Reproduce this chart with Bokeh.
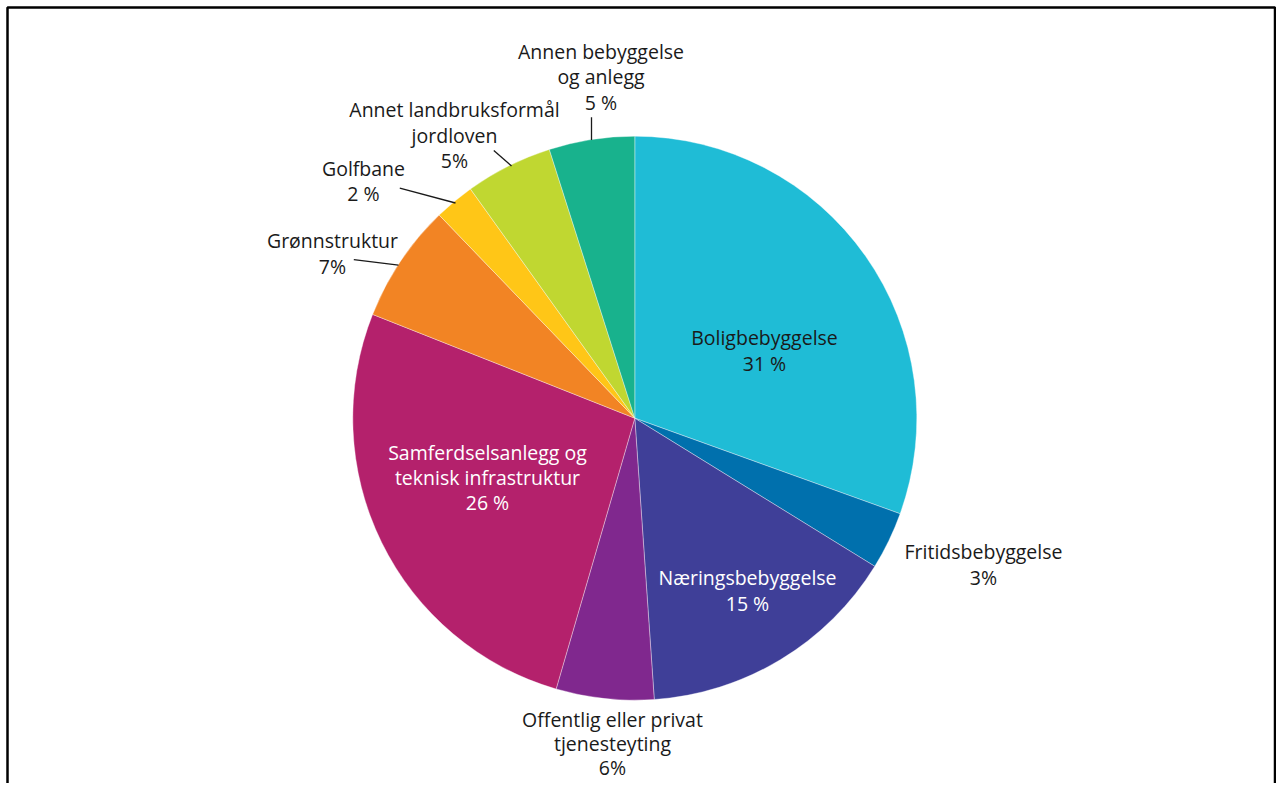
import numpy as np
from bokeh.plotting import figure
from bokeh.models import Range1d, ColumnDataSource
from bokeh.core.properties import value
from bokeh.embed import file_html
from bokeh.resources import INLINE

# ---- data (clockwise from 12 o'clock) ----
categories = ["Boligbebyggelse", "Fritidsbebyggelse", "Næringsbebyggelse",
              "Offentlig eller privat tjenesteyting",
              "Samferdselsanlegg og teknisk infrastruktur", "Grønnstruktur",
              "Golfbane", "Annet landbruksformål jordloven",
              "Annen bebyggelse og anlegg"]
shares = [30.5, 3.3, 15.1, 5.6, 26.5, 6.8, 2.3, 5.0, 4.9]
pct_labels = ["31 %", "3%", "15 %", "6%", "26 %", "7%", "2 %", "5%", "5 %"]
colors = ["#1FBCD6", "#0070AD", "#3F3F98", "#80288E", "#B4216C",
          "#F28424", "#FFC617", "#C0D731", "#18B28D"]

# label text lines per category
label_lines = [
    ["Boligbebyggelse", "31 %"],
    ["Fritidsbebyggelse", "3%"],
    ["Næringsbebyggelse", "15 %"],
    ["Offentlig eller privat", "tjenesteyting", "6%"],
    ["Samferdselsanlegg og", "teknisk infrastruktur", "26 %"],
    ["Grønnstruktur", "7%"],
    ["Golfbane", "2 %"],
    ["Annet landbruksformål", "jordloven", "5%"],
    ["Annen bebyggelse", "og anlegg", "5 %"],
]

# ---- layout (pixel-like coordinates; y = -screen_y) ----
W, H = 1276, 783
CX, CY, R = 634.3, -417.7, 282.0
label_x = [764, 983, 747, 612, 487, 332, 363, 454, 600.5]
label_y0 = [337.3, 551, 576.7, 719, 451.7, 240, 167.7, 109.3, 50.7]
line_gaps = [25.5, 26, 26, 24, 25, 26, 25.5, 25.5, 25.5]
label_colors = ["#1a1a1a", "#1a1a1a", "white", "#1a1a1a", "white",
                "#1a1a1a", "#1a1a1a", "#1a1a1a", "#1a1a1a"]
leaders = [  # (x0, y0, x1, y1) screen coords
    (591, 116.7, 591, 139.5),
    (493.3, 150, 511, 165.5),
    (399.3, 187.7, 455, 202.5),
    (353.3, 259.2, 398, 264.7),
]

p = figure(width=W, height=H, output_backend="svg", toolbar_location=None,
           x_range=Range1d(0, W), y_range=Range1d(-H, 0),
           min_border=0)
p.axis.visible = False
p.grid.visible = False
p.outline_line_color = None
p.background_fill_color = "white"
p.border_fill_color = "white"

frac = np.array(shares) / np.sum(shares)
cum = np.concatenate([[0.0], np.cumsum(frac)])
start = np.pi / 2 - cum[:-1] * 2 * np.pi
end = np.pi / 2 - cum[1:] * 2 * np.pi

src = ColumnDataSource(dict(start=start, end=end, color=colors, cat=categories))
p.wedge(x=CX, y=CY, radius=R, start_angle="start", end_angle="end",
        direction="clock", fill_color="color", line_color="white",
        line_width=0.6, line_alpha=0.6, source=src)

# leader lines
for (x0, y0, x1, y1) in leaders:
    p.line([x0, x1], [-y0, -y1], line_color="#1a1a1a", line_width=1.3)

# labels
tx, ty, tt, tc = [], [], [], []
for i, lines in enumerate(label_lines):
    for j, s in enumerate(lines):
        tx.append(label_x[i])
        ty.append(-(label_y0[i] + j * line_gaps[i]))
        tt.append(s)
        tc.append(label_colors[i])
p.text(x=tx, y=ty, text=tt, text_color=tc, text_align="center",
       text_baseline="middle", text_font=value("Open Sans"),
       text_font_size="19.5px")

# frame
p.line([7, 7, W - 1.5, W - 1.5], [-900, -7, -7, -900],
       line_color="black", line_width=2.5)

open("out.html", "w").write(file_html(p, INLINE))
